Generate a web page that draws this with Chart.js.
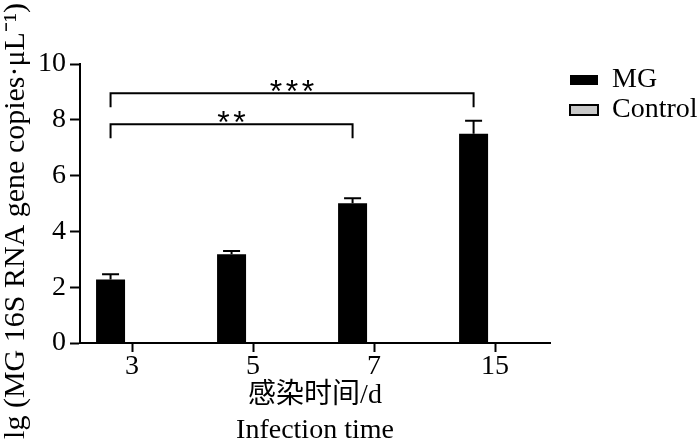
<!DOCTYPE html>
<html>
<head>
<meta charset="utf-8">
<script src="https://cdn.jsdelivr.net/npm/chart.js@4"></script>
<style>
  html, body { margin: 0; padding: 0; background: #fff; }
  #wrap { width: 700px; height: 442px; position: relative; }
</style>
</head>
<body>
<div id="wrap"><canvas id="chart"></canvas></div>
<script>
const days = ['3', '5', '7', '15'];
const mgValues = [2.28, 3.18, 5.01, 7.5];
const mgErrors = [0.18, 0.12, 0.18, 0.47];
const controlValues = [0, 0, 0, 0];
const sigBrackets = [
  { from: 0, to: 3, label: '***', level: 8.95 },
  { from: 0, to: 2, label: '**', level: 7.84 }
];
const yTitle = 'lg (MG 16S RNA gene copies·μL⁻¹)';
const xTitle = ['感染时间/d', 'Infection time'];

const serif = '"Liberation Serif", "Times New Roman", serif';

const errorBars = {
  id: 'errorBars',
  afterDatasetsDraw(chart) {
    const { ctx } = chart;
    const y = chart.scales.y;
    const meta = chart.getDatasetMeta(0);
    ctx.save();
    ctx.strokeStyle = '#000';
    ctx.lineWidth = 2;
    meta.data.forEach((bar, i) => {
      const top = y.getPixelForValue(mgValues[i] + mgErrors[i]);
      ctx.beginPath();
      ctx.moveTo(bar.x, bar.y);
      ctx.lineTo(bar.x, top);
      ctx.moveTo(bar.x - 8.5, top);
      ctx.lineTo(bar.x + 8.5, top);
      ctx.stroke();
    });

    // significance brackets
    const legDrop = 0.5;
    sigBrackets.forEach(b => {
      const x1 = meta.data[b.from].x;
      const x2 = meta.data[b.to].x;
      const yl = y.getPixelForValue(b.level);
      const yb = y.getPixelForValue(b.level - legDrop);
      ctx.beginPath();
      ctx.moveTo(x1, yb);
      ctx.lineTo(x1, yl);
      ctx.lineTo(x2, yl);
      ctx.lineTo(x2, yb);
      ctx.stroke();
      ctx.fillStyle = '#000';
      ctx.font = '32px "Liberation Sans", sans-serif';
      ctx.textAlign = 'center';
      ctx.textBaseline = 'alphabetic';
      const n = b.label.length;
      const mid = (x1 + x2) / 2;
      for (let k = 0; k < n; k++) {
        ctx.fillText('*', mid + (k - (n - 1) / 2) * 16, yl + 9);
      }
    });
    ctx.restore();
  }
};

const yTitlePlugin = {
  id: 'yTitle',
  afterDraw(chart) {
    const { ctx } = chart;
    ctx.save();
    ctx.translate(16, 221);
    ctx.rotate(-Math.PI / 2);
    ctx.fillStyle = '#000';
    ctx.font = '30px ' + serif;
    ctx.textAlign = 'center';
    ctx.textBaseline = 'middle';
    ctx.fillText(yTitle, 0, 0);
    ctx.restore();
  }
};

new Chart(document.getElementById('chart'), {
  type: 'bar',
  data: {
    datasets: [
      {
        label: 'MG',
        data: mgValues.map((v, i) => ({ x: i, y: v })),
        backgroundColor: '#000',
        borderWidth: 0
      },
      {
        label: 'Control',
        data: controlValues.map((v, i) => ({ x: i, y: v })),
        backgroundColor: '#c8c8c8',
        borderColor: '#000',
        borderWidth: 2
      }
    ]
  },
  options: {
    responsive: true,
    maintainAspectRatio: false,
    animation: false,
    categoryPercentage: 0.71,
    barPercentage: 0.675,
    layout: { padding: { top: 64, left: 0, right: 0, bottom: 0 } },
    plugins: {
      tooltip: { enabled: false },
      legend: {
        position: 'right',
        align: 'start',
        maxWidth: 132,
        labels: {
          color: '#000',
          font: { family: serif, size: 28 },
          boxWidth: 28,
          boxHeight: 10,
          padding: 2
        }
      }
    },
    scales: {
      x: {
        type: 'linear',
        offset: false,
        min: -0.43,
        max: 3.454,
        afterBuildTicks: s => { s.ticks = days.map((_, i) => ({ value: i })); },
        afterFit: s => { s.height = 99; },
        ticks: {
          color: '#000',
          font: { family: serif, size: 28, lineHeight: 1 },
          padding: 1,
          maxRotation: 0,
          callback: v => days[v]
        },
        grid: { display: true, offset: false, drawOnChartArea: false, tickLength: 9, tickWidth: 2, tickColor: '#000' },
        border: { color: '#000', width: 2 },
        title: {
          display: true,
          text: xTitle,
          color: '#000',
          font: { family: serif + ', "Noto Sans CJK SC"', size: 28, lineHeight: 35 / 28 },
          padding: { top: 0, bottom: -6 }
        }
      },
      y: {
        min: 0,
        max: 10,
        afterFit: s => { s.width = 80; },
        ticks: {
          stepSize: 2,
          color: '#000',
          font: { family: serif, size: 28 },
          padding: 4
        },
        grid: { display: true, drawOnChartArea: false, tickLength: 10, tickWidth: 2, tickColor: '#000' },
        border: { color: '#000', width: 2 }
      },
      y2: {
        type: 'linear',
        position: 'right',
        display: true,
        grid: { display: false },
        border: { display: false },
        ticks: { display: false },
        afterFit: s => { s.width = 18; }
      }
    }
  },
  plugins: [errorBars, yTitlePlugin]
});
</script>
</body>
</html>
